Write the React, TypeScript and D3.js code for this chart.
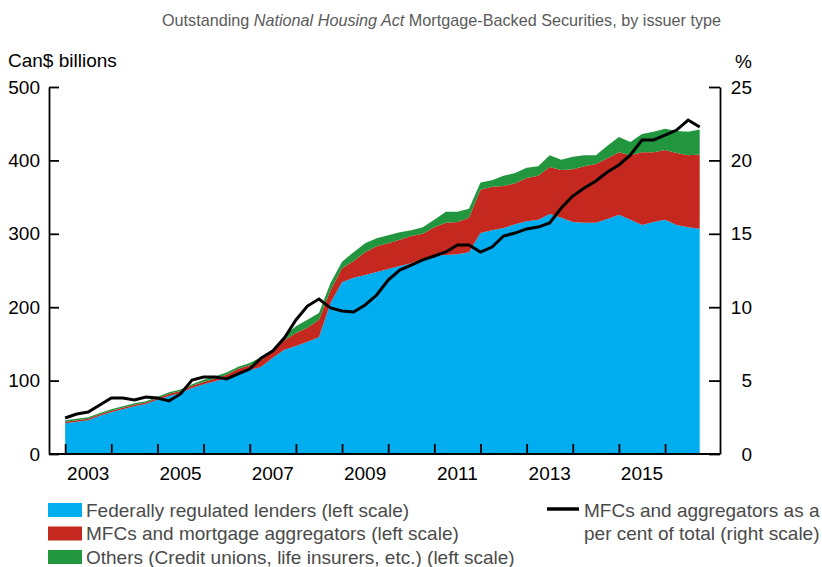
import * as d3 from "d3";
import { useRef, useEffect } from "react";

// quarterly points, first one at 2003Q1
const startYear = 2003;

// Can$ billions
const federal = [42, 44, 46, 52, 57, 61, 65, 68, 74, 79, 83, 90, 95, 99, 104, 110, 114, 119, 131, 142,
    147, 153, 159, 206, 234, 240, 244, 248, 252, 256, 260, 266, 270, 271, 272, 275, 301, 305, 308, 313,
    317, 319, 327, 322, 316, 315, 315, 320, 326, 319, 312, 316, 319, 312, 309, 307];
const mfc = [2, 2, 2, 2, 2, 2, 2, 2, 2, 3, 3, 3, 3, 4, 4, 6, 7, 9, 9, 13,
    18, 19, 24, 17, 19, 23, 31, 35, 35, 36, 37, 34, 39, 44, 44, 47, 59, 59, 57, 56,
    59, 60, 64, 65, 72, 77, 80, 83, 85, 88, 99, 95, 95, 98, 98, 101];
const others = [2, 2, 2, 2, 2, 2, 2, 2, 2, 2, 2, 2, 3, 3, 3, 3, 3, 4, 3, 6,
    9, 11, 9, 10, 9, 12, 12, 11, 11, 10, 8, 9, 10, 15, 14, 12, 10, 9, 14, 14,
    14, 13, 16, 14, 17, 15, 12, 17, 21, 18, 25, 28, 29, 30, 32, 34];
// %, right scale
const mfcShare = [2.45, 2.72, 2.86, 3.34, 3.81, 3.81, 3.68, 3.88, 3.81, 3.61, 4.09, 5.04, 5.25, 5.25, 5.11, 5.45,
    5.79, 6.54, 7.02, 7.9, 9.13, 10.08, 10.56, 9.95, 9.74, 9.67, 10.15, 10.83, 11.85, 12.53, 12.87, 13.22,
    13.49, 13.76, 14.24, 14.24, 13.76, 14.1, 14.85, 15.05, 15.33, 15.46, 15.74, 16.76, 17.57, 18.12, 18.6, 19.21,
    19.69, 20.37, 21.39, 21.39, 21.73, 22.07, 22.75, 22.28];

const yearTicks = d3.range(2003, 2017);
const yearLabels = ["2003", "2005", "2007", "2009", "2011", "2013", "2015"];
const leftTicks = [0, 100, 200, 300, 400, 500];
const rightTicks = [0, 5, 10, 15, 20, 25];

const seriesNames = ["Federally regulated lenders (left scale)",
    "MFCs and mortgage aggregators (left scale)",
    "Others (Credit unions, life insurers, etc.) (left scale)"];
const lineName = ["MFCs and aggregators as a", "per cent of total (right scale)"];
const colors = ["#00aeef", "#c4281f", "#21963f"];

const font = "'Liberation Sans', Arial, Helvetica, sans-serif";
const fs = "19px";

const App = () => {
    const chartRef = useRef<SVGSVGElement>(null);
    const width = 822;
    const height = 567;
    const margin = { top: 87, bottom: 113, left: 49, right: 102 };

    useEffect(() => {
        const svg = d3.select(chartRef.current);
        svg.selectAll("*").remove();

        const rows = federal.map((v, i) => ({
            date: startYear + i / 4,
            federal: v,
            mfc: mfc[i],
            others: others[i],
        }));

        const x = d3.scaleLinear()
            .domain([2002.65, 2017.19])
            .range([margin.left, width - margin.right]);
        const yLeft = d3.scaleLinear().domain([0, 500]).range([height - margin.bottom, margin.top]);
        const yRight = d3.scaleLinear().domain([0, 25]).range([height - margin.bottom, margin.top]);

        // areas
        const stacked = d3.stack<any>().keys(["federal", "mfc", "others"])(rows);
        const area = d3.area<any>()
            .x(d => x(d.data.date))
            .y0(d => yLeft(d[0]))
            .y1(d => yLeft(d[1]));
        svg.append("g")
            .selectAll("path")
            .data(stacked)
            .join("path")
            .attr("d", area)
            .attr("fill", (_, i) => colors[i]);

        // share line
        const line = d3.line<number>()
            .x((_, i) => x(startYear + i / 4))
            .y(d => yRight(d));
        svg.append("path")
            .datum(mfcShare)
            .attr("d", line)
            .attr("fill", "none")
            .attr("stroke", "#000")
            .attr("stroke-width", 3)
            .attr("stroke-linejoin", "miter");

        // axes
        const leftAxis = d3.axisLeft(yLeft).tickValues(leftTicks).tickSize(-10).tickSizeOuter(0).tickPadding(9);
        const gl = svg.append("g").attr("transform", `translate(${margin.left},0)`).call(leftAxis);
        gl.selectAll("text").style("font-size", fs).style("font-family", font).attr("fill", "#000");

        const rightAxis = d3.axisRight(yRight).tickValues(rightTicks).tickSize(-11).tickSizeOuter(0).tickPadding(0);
        const gr = svg.append("g").attr("transform", `translate(${width - margin.right},0)`).call(rightAxis);
        gr.selectAll("text").style("font-size", fs).style("font-family", font)
            .attr("text-anchor", "end").attr("x", 32).attr("fill", "#000");

        const bottomAxis = d3.axisBottom(x).tickValues(yearTicks).tickSize(-10).tickSizeOuter(0).tickFormat(() => "");
        const gb = svg.append("g").attr("transform", `translate(0,${height - margin.bottom})`).call(bottomAxis);
        gb.select(".domain").remove();
        gb.append("line")
            .attr("x1", margin.left).attr("x2", width - margin.right)
            .attr("stroke", "#000");

        svg.selectAll(".domain, .tick line, g > line").attr("stroke-width", 1.8);

        svg.append("g")
            .selectAll("text")
            .data(yearLabels)
            .join("text")
            .attr("x", d => x(+d + 0.5))
            .attr("y", height - margin.bottom + 26)
            .attr("text-anchor", "middle")
            .style("font-size", fs)
            .style("font-family", font)
            .text(d => d);

        // axis titles
        svg.append("text").attr("x", 8).attr("y", 67)
            .style("font-size", fs).style("font-family", font).text("Can$ billions");
        svg.append("text").attr("x", 752).attr("y", 68).attr("text-anchor", "end")
            .style("font-size", fs).style("font-family", font).text("%");

        // subtitle
        const sub = svg.append("text").attr("x", 162).attr("y", 26)
            .style("font-size", "16.2px").style("font-family", font).attr("fill", "#5a5a5a");
        sub.append("tspan").text("Outstanding ");
        sub.append("tspan").style("font-style", "italic").text("National Housing Act");
        sub.append("tspan").text(" Mortgage-Backed Securities, by issuer type");

        // legend
        const lg = svg.append("g");
        seriesNames.forEach((name, i) => {
            lg.append("rect")
                .attr("x", 48).attr("y", 503 + i * 23.5)
                .attr("width", 34).attr("height", 14)
                .attr("fill", colors[i]);
            lg.append("text")
                .attr("x", 86).attr("y", 517 + i * 23.3)
                .style("font-size", fs).style("font-family", font).attr("fill", "#4a4a4a")
                .text(name);
        });
        lg.append("line")
            .attr("x1", 547).attr("x2", 579).attr("y1", 509).attr("y2", 509)
            .attr("stroke", "#000").attr("stroke-width", 3.5);
        lineName.forEach((t, i) => {
            lg.append("text")
                .attr("x", 584).attr("y", 517 + i * 23.3)
                .style("font-size", fs).style("font-family", font).attr("fill", "#4a4a4a")
                .text(t);
        });
    }, []);

    return (
        <svg ref={chartRef} width={width} height={height}
             style={{ position: "absolute", left: 0, top: 0, background: "#fff" }} />
    );
};

export default App;
